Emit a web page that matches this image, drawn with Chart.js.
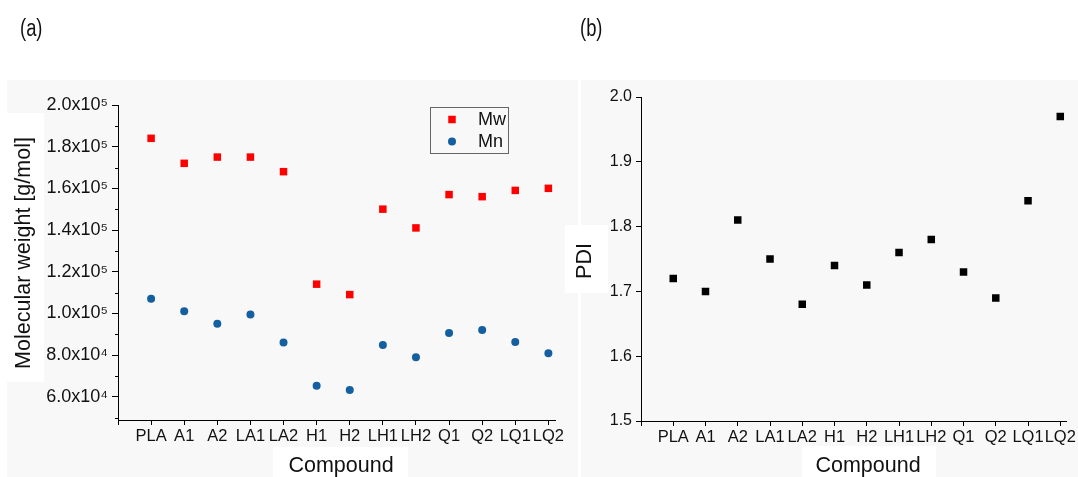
<!DOCTYPE html>
<html>
<head>
<meta charset="utf-8">
<script src="https://cdn.jsdelivr.net/npm/chart.js@4.4.1/dist/chart.umd.min.js"></script>
<style>
  body { margin: 0; width: 1078px; height: 477px; background: #fff; position: relative; overflow: hidden;
         font-family: "Liberation Sans", Arial, sans-serif; color: #111; }
  .panel { position: absolute; top: 80px; height: 397px; background: #f8f8f8; }
  .box { position: absolute; background: #fff; }
  .tag { position: absolute; top: 17px; font-size: 23px; line-height: 1; transform: scaleX(0.8); transform-origin: left top; }
  .title { position: absolute; font-size: 21.5px; line-height: 1; white-space: nowrap; transform: translate(-50%, -50%); }
  .title.rot { transform: translate(-50%, -50%) rotate(-90deg); }
  canvas { position: absolute; top: 0; }
</style>
</head>
<body>
<div class="panel" style="left:7px;width:571px"></div>
<div class="panel" style="left:581px;width:497px"></div>

<!-- white backing behind the axis titles -->
<div class="box" style="left:7px;top:113px;width:37px;height:269px"></div>
<div class="box" style="left:273px;top:447px;width:135px;height:30px"></div>
<div class="box" style="left:565px;top:225px;width:43px;height:68px"></div>
<div class="box" style="left:802px;top:446px;width:134px;height:31px"></div>

<canvas id="mwChart" width="580" height="477" style="left:0"></canvas>
<canvas id="pdiChart" width="518" height="477" style="left:560px"></canvas>

<div class="tag" style="left:20px">(a)</div>
<div class="tag" style="left:580px">(b)</div>
<div class="title rot" style="left:24px;top:253px">Molecular weight [g/mol]</div>
<div class="title" style="left:341px;top:466px">Compound</div>
<div class="title rot" style="left:585px;top:261px">PDI</div>
<div class="title" style="left:868px;top:466px">Compound</div>

<script>
const compounds = ['PLA', 'A1', 'A2', 'LA1', 'LA2', 'H1', 'H2', 'LH1', 'LH2', 'Q1', 'Q2', 'LQ1', 'LQ2'];
const mwValues = [184000, 172000, 175000, 175000, 168000, 114000, 109000, 150000, 141000, 157000, 156000, 159000, 160000];
const mnValues = [107000, 101000, 95000, 99400, 86000, 65300, 63200, 84800, 78900, 90600, 92000, 86200, 80800];
const pdiValues = [1.72, 1.70, 1.81, 1.75, 1.68, 1.74, 1.71, 1.76, 1.78, 1.73, 1.69, 1.84, 1.97];

// x ticks: one extra at -1 where the axis starts
const xTickValues = [-1, 0, 1, 2, 3, 4, 5, 6, 7, 8, 9, 10, 11, 12];
const mwTickValues = [50000, 60000, 70000, 80000, 90000, 100000, 110000, 120000, 130000, 140000, 150000, 160000, 170000, 180000, 190000, 200000];
const mwMajorValues = [60000, 80000, 100000, 120000, 140000, 160000, 180000, 200000];
const mwMajorLabels = ['6.0x10\u2074', '8.0x10\u2074', '1.0x10\u2075', '1.2x10\u2075', '1.4x10\u2075', '1.6x10\u2075', '1.8x10\u2075', '2.0x10\u2075'];
const pdiTickValues = [1.5, 1.6, 1.7, 1.8, 1.9, 2.0];
const pdiTickLabels = ['1.5', '1.6', '1.7', '1.8', '1.9', '2.0'];

const FONT = '"Liberation Sans", Arial, sans-serif';
const toPoints = vals => vals.map((v, i) => ({ x: i, y: v }));
const setTicks = vals => scale => { scale.ticks = vals.map(v => ({ value: v })); };

function xAxis(height) {
  return {
    type: 'linear', min: -1, max: 12.2,
    afterBuildTicks: setTicks(xTickValues),
    afterFit: s => { s.height = height; },
    grid: { drawOnChartArea: false, tickLength: 5, tickColor: '#000' },
    border: { color: '#000', width: 1 },
    ticks: {
      autoSkip: false, maxRotation: 0, padding: 2, color: '#111',
      font: { family: FONT, size: 16.5 },
      callback: (v) => compounds[v] !== undefined ? compounds[v] : ''
    }
  };
}

// short ticks between the labelled ones on the left axis
const minorTicks = {
  id: 'minorTicks',
  afterDraw(chart) {
    const s = chart.scales.y;
    const ctx = chart.ctx;
    ctx.save();
    ctx.strokeStyle = '#000';
    ctx.lineWidth = 1;
    mwTickValues.filter(v => !mwMajorValues.includes(v)).forEach(v => {
      const y = Math.round(s.getPixelForValue(v)) + 0.5;
      ctx.beginPath();
      ctx.moveTo(s.right - 3, y);
      ctx.lineTo(s.right, y);
      ctx.stroke();
    });
    ctx.restore();
  }
};

// framed legend inside the plot
const boxLegend = {
  id: 'boxLegend',
  afterDraw(chart, args, opts) {
    const ctx = chart.ctx;
    ctx.save();
    ctx.strokeStyle = '#666';
    ctx.lineWidth = 1;
    ctx.strokeRect(opts.x + 0.5, opts.y + 0.5, opts.w, opts.h);
    ctx.font = '18px ' + FONT;
    ctx.textBaseline = 'middle';
    chart.data.datasets.forEach((ds, i) => {
      const cy = opts.y + opts.rows[i];
      ctx.fillStyle = ds.backgroundColor;
      Chart.helpers.drawPoint(ctx, { pointStyle: ds.pointStyle, radius: ds.pointRadius, rotation: 0, borderWidth: 0 }, opts.x + 22, cy);
      ctx.fillStyle = '#111';
      ctx.fillText(ds.label, opts.x + 48, cy + 1);
    });
    ctx.restore();
  }
};

new Chart(document.getElementById('mwChart'), {
  type: 'scatter',
  data: {
    datasets: [
      { label: 'Mw', data: toPoints(mwValues), pointStyle: 'rect', pointRadius: 5.3, backgroundColor: '#ff0000', borderWidth: 0 },
      { label: 'Mn', data: toPoints(mnValues), pointStyle: 'circle', pointRadius: 4, backgroundColor: '#145f9f', borderWidth: 0 }
    ]
  },
  options: {
    responsive: false, animation: false, events: [],
    layout: { padding: { left: 0, right: 25, top: 105, bottom: 0 } },
    scales: {
      x: xAxis(57),
      y: {
        min: 48800, max: 200000,
        afterBuildTicks: setTicks(mwTickValues),
        afterFit: s => { s.width = 118; },
        grid: {
          drawOnChartArea: false, tickLength: 6,
          tickColor: c => mwMajorValues.includes(c.tick.value) ? '#000' : 'rgba(0,0,0,0)'
        },
        border: { color: '#000', width: 1 },
        ticks: {
          autoSkip: false, padding: 4, color: '#111', font: { family: FONT, size: 18 },
          callback: v => { const i = mwMajorValues.indexOf(v); return i >= 0 ? mwMajorLabels[i] : ''; }
        }
      }
    },
    plugins: {
      legend: { display: false }, tooltip: { enabled: false },
      boxLegend: { x: 430, y: 107, w: 78, h: 46, rows: [12.5, 34.5] }
    }
  },
  plugins: [minorTicks, boxLegend]
});

new Chart(document.getElementById('pdiChart'), {
  type: 'scatter',
  data: {
    datasets: [
      { label: 'PDI', data: toPoints(pdiValues), pointStyle: 'rect', pointRadius: 5.3, backgroundColor: '#000', borderWidth: 0 }
    ]
  },
  options: {
    responsive: false, animation: false, events: [],
    layout: { padding: { left: 0, right: 8, top: 97, bottom: 0 } },
    scales: {
      x: xAxis(56),
      y: {
        min: 1.5, max: 2.0,
        afterBuildTicks: setTicks(pdiTickValues),
        afterFit: s => { s.width = 81; },
        grid: { drawOnChartArea: false, tickLength: 5, tickColor: '#000' },
        border: { color: '#000', width: 1 },
        ticks: {
          autoSkip: false, padding: 4, color: '#111', font: { family: FONT, size: 16 },
          callback: (v, i) => pdiTickLabels[i]
        }
      }
    },
    plugins: { legend: { display: false }, tooltip: { enabled: false } }
  }
});
</script>
</body>
</html>
